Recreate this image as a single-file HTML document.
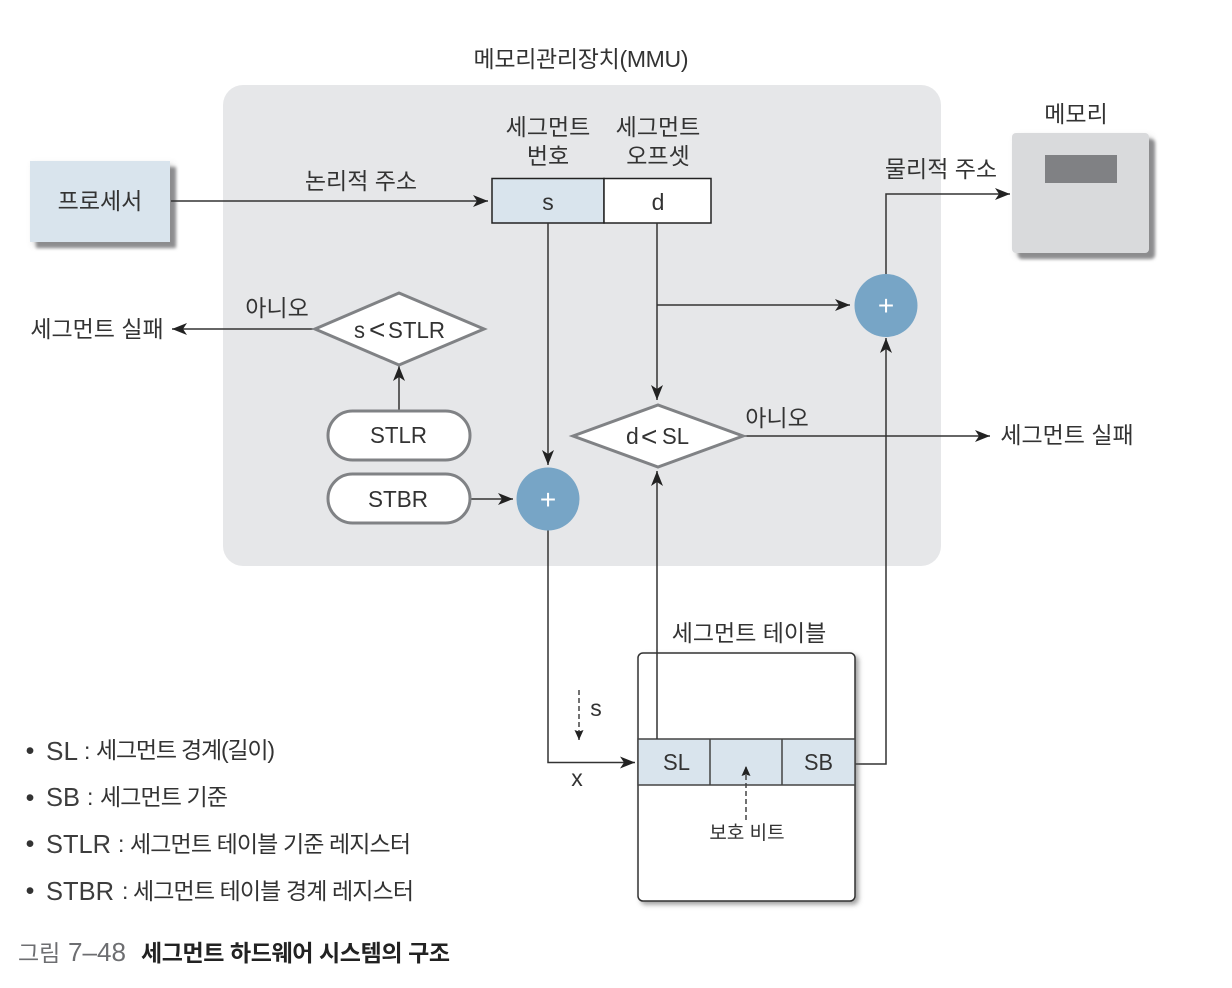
<!DOCTYPE html>
<html lang="ko"><head><meta charset="utf-8"><style>
html,body{margin:0;padding:0;background:#fff}
svg{display:block}
text{font-family:"Liberation Sans","Noto Sans CJK KR",sans-serif;fill:#333;font-size:23px}
.b{font-size:26px;fill:#3d3d3d}
</style></head><body>
<svg width="1232" height="988" viewBox="0 0 1232 988" xmlns="http://www.w3.org/2000/svg">
<defs>
<marker id="a" markerWidth="16" markerHeight="12" refX="15" refY="6" orient="auto" markerUnits="userSpaceOnUse"><path d="M0 0L15 6L0 12L4 6Z" fill="#222"/></marker>
<marker id="d" markerWidth="11" markerHeight="10" refX="10" refY="4.500" orient="auto" markerUnits="userSpaceOnUse"><path d="M0 0L10 4.500L0 9L1.500 4.500Z" fill="#222"/></marker>
<filter id="s" x="-15%" y="-15%" width="135%" height="135%">
<feGaussianBlur in="SourceAlpha" stdDeviation="3" result="b1"/>
<feOffset in="b1" dx="3" dy="3" result="o1"/>
<feFlood flood-color="#777" flood-opacity=".3"/><feComposite in2="o1" operator="in" result="h"/>
<feGaussianBlur in="SourceAlpha" stdDeviation="1.500" result="b2"/>
<feOffset in="b2" dx="6" dy="6" result="o2"/>
<feFlood flood-color="#8c8c8e" flood-opacity="1"/><feComposite in2="o2" operator="in" result="c"/>
<feMerge><feMergeNode in="h"/><feMergeNode in="c"/><feMergeNode in="SourceGraphic"/></feMerge>
</filter>
<filter id="t" x="-10%" y="-10%" width="125%" height="125%"><feDropShadow dx="3" dy="3" stdDeviation="2.500" flood-color="#555" flood-opacity=".55"/></filter>
</defs>
<rect x="223" y="85" width="718" height="481" rx="20" fill="#e6e7e9"/>
<text x="581" y="67" text-anchor="middle" textLength="215">메모리관리장치(MMU)</text>
<rect x="30" y="161" width="140" height="81" fill="#d9e4ed" filter="url(#s)"/>
<text x="100" y="209" text-anchor="middle">프로세서</text>
<rect x="1012" y="133" width="137" height="120" rx="4" fill="#d9dadc" filter="url(#s)"/>
<rect x="1045" y="155" width="72" height="28" fill="#808184"/>
<text x="1076" y="122" text-anchor="middle">메모리</text>
<text x="548" y="135" text-anchor="middle">세그먼트</text><text x="548" y="164" text-anchor="middle">번호</text>
<text x="658" y="135" text-anchor="middle">세그먼트</text><text x="658" y="164" text-anchor="middle">오프셋</text>
<rect x="492" y="178.500" width="112" height="44.500" fill="#d9e4ed" stroke="#222" stroke-width="1.500"/>
<rect x="604" y="178.500" width="107" height="44.500" fill="#fff" stroke="#222" stroke-width="1.500"/>
<text x="548" y="210" text-anchor="middle">s</text><text x="658" y="210" text-anchor="middle">d</text>
<g fill="none" stroke="#333" stroke-width="1.500">
<path d="M171 201H488" marker-end="url(#a)"/>
<path d="M548 223V465" marker-end="url(#a)"/>
<path d="M657 223V400" marker-end="url(#a)"/>
<path d="M657 305H850" marker-end="url(#a)"/>
<path d="M886 274V194H1010" marker-end="url(#a)"/>
<path d="M313 329H172" marker-end="url(#a)"/>
<path d="M399 411V366" marker-end="url(#a)"/>
<path d="M470 499H513" marker-end="url(#a)"/>
<path d="M744 436H990" marker-end="url(#a)"/>
<path d="M548 530V762.500H635" marker-end="url(#a)"/>
<path d="M657 739V471" marker-end="url(#a)"/>
<path d="M855 764H886V338" marker-end="url(#a)"/>
</g>
<text x="361" y="189" text-anchor="middle">논리적 주소</text>
<text x="941" y="177" text-anchor="middle">물리적 주소</text>
<text x="277" y="316" text-anchor="middle">아니오</text>
<text x="777" y="426" text-anchor="middle">아니오</text>
<text x="97" y="337" text-anchor="middle">세그먼트 실패</text>
<text x="1067" y="443" text-anchor="middle">세그먼트 실패</text>
<path d="M315 329L399 293L484 329L399 365Z" fill="#fff" stroke="#808285" stroke-width="3"/>
<text x="354" y="338" textLength="11" lengthAdjust="spacingAndGlyphs">s</text>
<text x="369" y="339" style="font-size:28px">&lt;</text>
<text x="388" y="338" textLength="57" lengthAdjust="spacingAndGlyphs">STLR</text>
<path d="M573 436L658 405L743 436L658 467Z" fill="#fff" stroke="#808285" stroke-width="3"/>
<text x="626" y="444">d</text>
<text x="641" y="446" style="font-size:28px">&lt;</text>
<text x="662" y="444" textLength="27" lengthAdjust="spacingAndGlyphs">SL</text>
<rect x="328" y="411" width="142" height="49" rx="24.500" fill="#fff" stroke="#808285" stroke-width="3"/>
<text x="370" y="443" textLength="57" lengthAdjust="spacingAndGlyphs">STLR</text>
<rect x="328" y="474" width="142" height="49" rx="24.500" fill="#fff" stroke="#808285" stroke-width="3"/>
<text x="368" y="507" textLength="60" lengthAdjust="spacingAndGlyphs">STBR</text>
<circle cx="548" cy="499" r="31.500" fill="#77a5c6"/><text x="548" y="509" text-anchor="middle" style="fill:#fff;font-size:28px">+</text>
<circle cx="886" cy="305.500" r="31.500" fill="#77a5c6"/><text x="886" y="315" text-anchor="middle" style="fill:#fff;font-size:28px">+</text>
<text x="749" y="641" text-anchor="middle">세그먼트 테이블</text>
<rect x="638" y="653" width="217" height="248" rx="5" fill="#fff" stroke="#333" stroke-width="1.500" filter="url(#t)"/>
<rect x="638" y="739" width="217" height="46" fill="#d9e4ed" stroke="#444" stroke-width="1.500"/>
<path d="M710 739V785M782 739V785" stroke="#444" stroke-width="1.500"/>
<path d="M657 653V739" stroke="#333" stroke-width="1.500"/>
<text x="663" y="770" textLength="27" lengthAdjust="spacingAndGlyphs">SL</text>
<text x="804" y="770" textLength="29" lengthAdjust="spacingAndGlyphs">SB</text>
<path d="M579 690V740" stroke="#444" stroke-width="1.500" stroke-dasharray="5 3" marker-end="url(#d)"/>
<path d="M746 820V766" stroke="#444" stroke-width="1.500" stroke-dasharray="5 3" marker-end="url(#d)"/>
<text x="596" y="716" text-anchor="middle">s</text>
<text x="577" y="786" text-anchor="middle">x</text>
<text x="747" y="839" text-anchor="middle" style="font-size:19px">보호 비트</text>
<g>
<text x="30" y="759" text-anchor="middle" style="font-size:25px">•</text>
<text class="b" x="46" y="760" textLength="32" lengthAdjust="spacingAndGlyphs">SL</text><text x="84" y="759">:</text><text x="96" y="758" textLength="179">세그먼트 경계(길이)</text>
<text x="30" y="806" text-anchor="middle" style="font-size:25px">•</text>
<text class="b" x="46" y="806" textLength="34" lengthAdjust="spacingAndGlyphs">SB</text><text x="87" y="805">:</text><text x="100" y="805" textLength="128">세그먼트 기준</text>
<text x="30" y="852" text-anchor="middle" style="font-size:25px">•</text>
<text class="b" x="46" y="853" textLength="65" lengthAdjust="spacingAndGlyphs">STLR</text><text x="118" y="852">:</text><text x="130" y="852" textLength="281">세그먼트 테이블 기준 레지스터</text>
<text x="30" y="899" text-anchor="middle" style="font-size:25px">•</text>
<text class="b" x="46" y="900" textLength="68" lengthAdjust="spacingAndGlyphs">STBR</text><text x="122" y="899">:</text><text x="133" y="899" textLength="281">세그먼트 테이블 경계 레지스터</text>
</g>
<text x="18" y="961" style="fill:#6d6e71">그림</text>
<text x="68" y="961" style="fill:#6d6e71;font-size:26px" textLength="58" lengthAdjust="spacingAndGlyphs">7–48</text>
<text x="141" y="961" style="font-weight:700;fill:#222" textLength="309">세그먼트 하드웨어 시스템의 구조</text>
</svg>
</body></html>
